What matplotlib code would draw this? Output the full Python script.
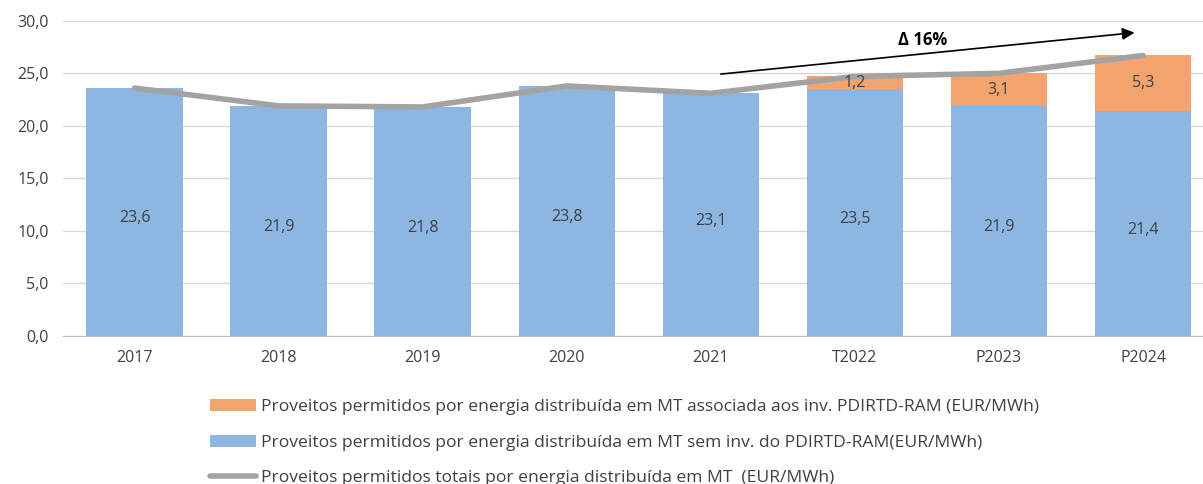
import matplotlib
matplotlib.use('Agg')
import matplotlib.pyplot as plt
import numpy as np

anos = ['2017', '2018', '2019', '2020', '2021', 'T2022', 'P2023', 'P2024']
sem_inv = [23.6, 21.9, 21.8, 23.8, 23.1, 23.5, 21.9, 21.4]
inv_ram = [0, 0, 0, 0, 0, 1.2, 3.1, 5.3]
totais = [23.6, 21.9, 21.8, 23.8, 23.1, 24.7, 25.0, 26.7]

azul = '#8DB6E0'
laranja = '#F2A36E'
cinza = '#A3A3A3'
texto = '#404040'

plt.rcParams['font.family'] = ['Open Sans', 'DejaVu Sans']

fig = plt.figure(figsize=(12.03, 4.84), dpi=100)
ax = fig.add_axes([0.052, 0.306, 0.958, 0.651])

x = np.arange(len(anos))
b1 = ax.bar(x, sem_inv, width=0.67, color=azul, zorder=2,
            label='Proveitos permitidos por energia distribuída em MT sem inv. do PDIRTD-RAM(EUR/MWh)')
b2 = ax.bar(x, inv_ram, width=0.67, bottom=sem_inv, color=laranja, zorder=2,
            label='Proveitos permitidos por energia distribuída em MT associada aos inv. PDIRTD-RAM (EUR/MWh)')
l1, = ax.plot(x, totais, color=cinza, lw=4, zorder=3, solid_capstyle='round',
              label='Proveitos permitidos totais por energia distribuída em MT  (EUR/MWh)')

for i in range(len(anos)):
    ax.text(x[i], sem_inv[i] / 2 - 0.6, ('%.1f' % sem_inv[i]).replace('.', ','),
            ha='center', va='center', fontsize=11.5, color=texto, zorder=4)
    if inv_ram[i] > 0:
        ax.text(x[i], sem_inv[i] + inv_ram[i] / 2, ('%.1f' % inv_ram[i]).replace('.', ','),
                ha='center', va='center', fontsize=11.5, color=texto, zorder=4)

# seta do delta
ax.annotate('', xy=(6.96, 28.9), xytext=(4.05, 24.9),
            arrowprops=dict(arrowstyle='-|>', color='black', lw=1.2, mutation_scale=18), zorder=5)
ax.text(5.47, 28.2, 'Δ 16%', ha='center', va='center', fontsize=12, fontweight='bold', color='black')

ax.set_ylim(0, 30)
ax.set_yticks(np.arange(0, 31, 5))
ax.set_yticklabels([('%.1f' % v).replace('.', ',') for v in np.arange(0, 31, 5)])
ax.set_xlim(-0.5, 7.5)
ax.set_xticks(x)
ax.set_xticklabels(anos)
ax.tick_params(axis='both', length=0, labelsize=11.5, colors=texto)
ax.tick_params(axis='x', pad=10)
ax.tick_params(axis='y', pad=10)
ax.grid(axis='y', color='#D9D9D9', lw=1, zorder=0)
for s in ['top', 'right', 'left']:
    ax.spines[s].set_visible(False)
ax.spines['bottom'].set_color('#BFBFBF')

fig.legend(handles=[b2, b1, l1], loc='upper center', bbox_to_anchor=(0.519, 0.19),
           ncol=1, frameon=False, fontsize=12.6, handlelength=2.6, handleheight=0.7,
           handletextpad=0.28, labelspacing=1.1, labelcolor=texto, borderaxespad=0)

fig.savefig('out.png', dpi=100)
